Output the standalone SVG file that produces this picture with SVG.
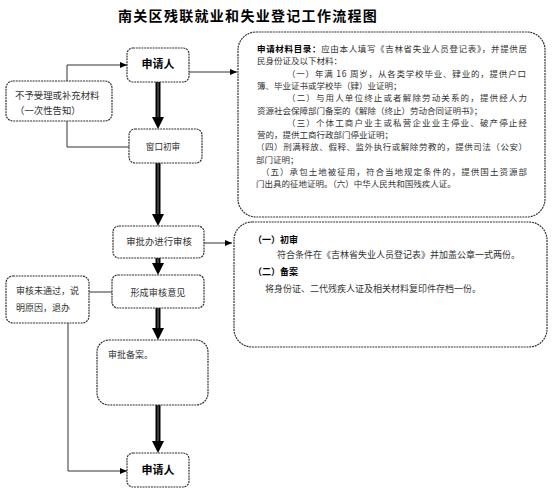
<svg xmlns="http://www.w3.org/2000/svg" width="554" height="492" viewBox="0 0 554 492">
<defs>
<style>
.box{fill:#fff;stroke:#333;stroke-width:1.2;stroke-dasharray:2 0.8}
.t{font-family:"Noto Sans CJK SC","Liberation Sans",sans-serif;fill:#333}
.s{font-size:9px}
.xs{font-size:8.5px}
.b{font-weight:bold;fill:#000}
.thin{fill:none;stroke:#333;stroke-width:1}
.shaft{stroke:#000;stroke-width:5}
.shaftin{stroke:#777;stroke-width:1}
.head{fill:#000}
</style>
<marker id="ah" markerWidth="8" markerHeight="8" refX="7" refY="4" orient="auto" markerUnits="userSpaceOnUse">
<path d="M0,1 L7,4 L0,7 Z" fill="#000"/>
</marker>
</defs>
<rect width="554" height="492" fill="#fff"/>
<text class="t b" x="118" y="21" font-size="14" letter-spacing="1.3">南关区残联就业和失业登记工作流程图</text>

<g id="connectors">
<g>
<line class="shaft" x1="158" y1="82" x2="158" y2="119"/><line class="shaftin" x1="158" y1="82" x2="158" y2="119"/>
<polygon class="head" points="152,117 164,117 158,129"/>
<line class="shaft" x1="158" y1="163" x2="158" y2="216"/><line class="shaftin" x1="158" y1="163" x2="158" y2="216"/>
<polygon class="head" points="152,214 164,214 158,226"/>
<line class="shaft" x1="158" y1="258" x2="158" y2="265"/><line class="shaftin" x1="158" y1="258" x2="158" y2="265"/>
<polygon class="head" points="152,263 164,263 158,275"/>
<line class="shaft" x1="158" y1="308" x2="158" y2="330"/><line class="shaftin" x1="158" y1="308" x2="158" y2="330"/>
<polygon class="head" points="152,328 164,328 158,340"/>
<line class="shaft" x1="158" y1="405" x2="158" y2="443"/><line class="shaftin" x1="158" y1="405" x2="158" y2="443"/>
<polygon class="head" points="152,441 164,441 158,453"/>
</g>
<polyline class="thin" points="189,72 237,72" marker-end="url(#ah)"/>
<polyline class="thin" points="67,81 67,65 127,65" marker-end="url(#ah)"/>
<polyline class="thin" points="67,121 67,147 129,147"/>
<polyline class="thin" points="204,243 232,243" marker-end="url(#ah)"/>
<polyline class="thin" points="112,292 89,292"/>
<polyline class="thin" points="68,323 68,471 127,471" marker-end="url(#ah)"/>
</g>

<g id="applicant-top">
<rect class="box" x="127" y="48" width="62" height="34" rx="6"/>
<text class="t b" x="158" y="68" font-size="11" text-anchor="middle">申请人</text>
</g>

<g id="materials">
<rect class="box" x="238" y="32" width="307" height="185" rx="18"/>
<text class="t xs" x="257" y="52" textLength="270" lengthAdjust="spacing"><tspan class="b">申请材料目录：</tspan>应由本人填写《吉林省失业人员登记表》，并提供居</text>
<text class="t xs" x="257" y="64.3">民身份证及以下材料：</text>
<text class="t xs" x="287" y="76.6" textLength="239" lengthAdjust="spacing">（一）年满 16 周岁，从各类学校毕业、肄业的，提供户口</text>
<text class="t xs" x="257" y="88.9">簿、毕业证书或学校毕（肄）业证明；</text>
<text class="t xs" x="287" y="101.2" textLength="240" lengthAdjust="spacing">（二）与用人单位终止或者解除劳动关系的，提供经人力</text>
<text class="t xs" x="257" y="113.5">资源社会保障部门备案的《解除（终止）劳动合同证明书》；</text>
<text class="t xs" x="287" y="125.8" textLength="240" lengthAdjust="spacing">（三）个体工商户业主或私营企业业主停业、破产停止经</text>
<text class="t xs" x="257" y="138.1">营的，提供工商行政部门停业证明；</text>
<text class="t xs" x="256" y="150.4" textLength="271" lengthAdjust="spacing">（四）刑满释放、假释、监外执行或解除劳教的，提供司法（公安）</text>
<text class="t xs" x="256" y="162.7">部门证明；</text>
<text class="t xs" x="261" y="175" textLength="266" lengthAdjust="spacing">（五）承包土地被征用，符合当地规定条件的，提供国土资源部</text>
<text class="t xs" x="256" y="187.3">门出具的征地证明。（六）中华人民共和国残疾人证。</text>
</g>

<g id="reject">
<rect class="box" x="6" y="81" width="106" height="40" rx="7"/>
<text class="t" x="15" y="98.5" font-size="9.4">不予受理或补充材料</text>
<text class="t" x="15" y="113.5" font-size="9.4">（一次性告知）</text>
</g>

<g id="window-review">
<rect class="box" x="129" y="129" width="73" height="34" rx="6"/>
<text class="t" x="163" y="149.5" font-size="8.6" text-anchor="middle">窗口初审</text>
</g>

<g id="office-review">
<rect class="box" x="113" y="226" width="91" height="32" rx="6"/>
<text class="t" x="159" y="244.5" font-size="9.4" text-anchor="middle">审批办进行审核</text>
</g>

<g id="review-detail">
<rect class="box" x="234" y="222" width="313" height="125" rx="18"/>
<text class="t s b" x="253" y="243">（一）初审</text>
<text class="t s" x="277" y="258">符合条件在《吉林省失业人员登记表》并加盖公章一式两份。</text>
<text class="t s b" x="253" y="275">（二）备案</text>
<text class="t s" x="265" y="292">将身份证、二代残疾人证及相关材料复印件存档一份。</text>
</g>

<g id="opinion">
<rect class="box" x="112" y="275" width="92" height="33" rx="6"/>
<text class="t" x="158" y="295.5" font-size="9.2" text-anchor="middle">形成审核意见</text>
</g>

<g id="not-passed">
<rect class="box" x="6" y="276" width="83" height="47" rx="7"/>
<text class="t" x="16" y="293.5" font-size="9">审核未通过，说</text>
<text class="t" x="16" y="310.5" font-size="9">明原因，退办</text>
</g>

<g id="filing">
<rect class="box" x="97" y="340" width="111" height="65" rx="12"/>
<text class="t" x="108" y="358" font-size="9">审批备案。</text>
</g>

<g id="applicant-bottom">
<rect class="box" x="127" y="453" width="62" height="34" rx="6"/>
<text class="t b" x="158" y="474" font-size="11" text-anchor="middle">申请人</text>
</g>
</svg>
